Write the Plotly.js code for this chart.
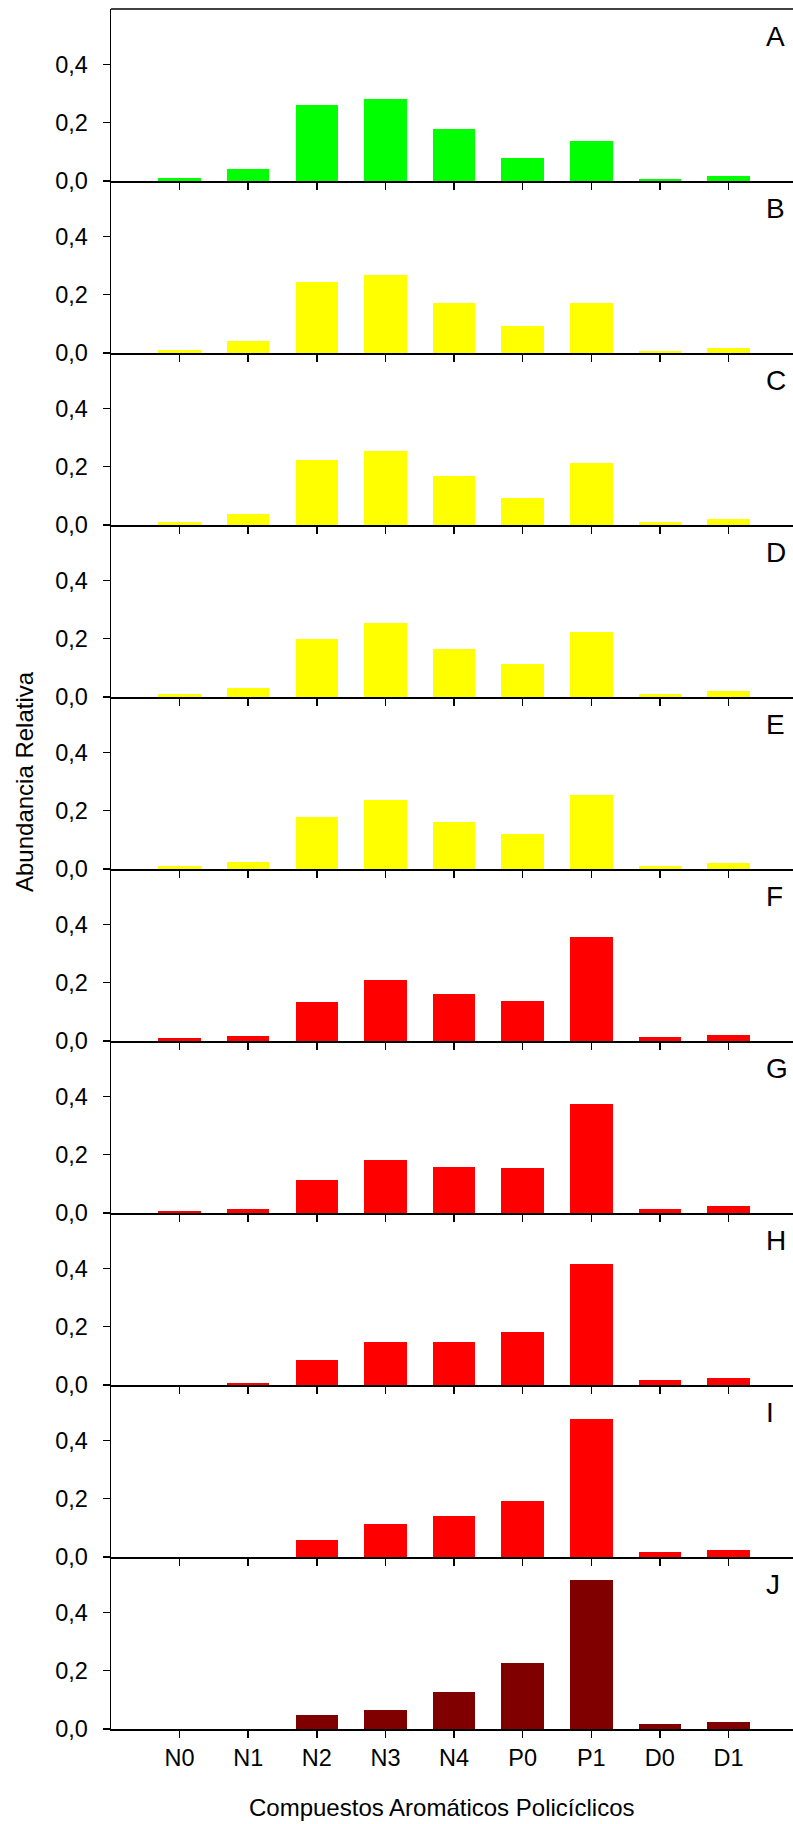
<!DOCTYPE html>
<html>
<head>
<meta charset="utf-8">
<script src="https://cdn.plot.ly/plotly-3.0.1.min.js"></script>
<style>
  html, body { margin: 0; padding: 0; background: #ffffff; }
  #chart { width: 793px; height: 1824px; }
</style>
</head>
<body>
<div id="chart"></div>
<script>
// Categories (x tick labels)
const categories = ['N0', 'N1', 'N2', 'N3', 'N4', 'P0', 'P1', 'D0', 'D1'];

// Panel labels
const panelLabels = ['A', 'B', 'C', 'D', 'E', 'F', 'G', 'H', 'I', 'J'];

// Relative abundance per panel
const panelA = [0.011, 0.042, 0.261, 0.280, 0.178, 0.078, 0.136, 0.006, 0.016];
const panelB = [0.011, 0.040, 0.245, 0.268, 0.173, 0.091, 0.170, 0.008, 0.016];
const panelC = [0.009, 0.037, 0.223, 0.253, 0.167, 0.091, 0.213, 0.009, 0.019];
const panelD = [0.009, 0.031, 0.198, 0.253, 0.165, 0.112, 0.223, 0.011, 0.019];
const panelE = [0.009, 0.024, 0.178, 0.236, 0.160, 0.120, 0.253, 0.009, 0.019];
const panelF = [0.009, 0.017, 0.134, 0.208, 0.160, 0.138, 0.358, 0.014, 0.021];
const panelG = [0.007, 0.013, 0.113, 0.181, 0.157, 0.153, 0.374, 0.015, 0.023];
const panelH = [0.000, 0.006, 0.087, 0.149, 0.146, 0.181, 0.414, 0.016, 0.023];
const panelI = [0.000, 0.000, 0.057, 0.113, 0.140, 0.193, 0.472, 0.016, 0.023];
const panelJ = [0.000, 0.000, 0.049, 0.065, 0.126, 0.226, 0.512, 0.017, 0.023];

// Y tick values and labels
const yTickVals = [0, 0.2, 0.4];
const yTickText = ['0,0', '0,2', '0,4'];

// Axis titles
const xTitle = 'Compuestos Aromáticos Policíclicos';
const yTitle = 'Abundancia Relativa';

const panelData = [panelA, panelB, panelC, panelD, panelE, panelF, panelG, panelH, panelI, panelJ];
const panelColors = ['#00ff00', '#ffff00', '#ffff00', '#ffff00', '#ffff00',
                     '#ff0000', '#ff0000', '#ff0000', '#ff0000', '#800000'];

const FONT = 'Liberation Sans, Arial, Helvetica, sans-serif';
const W = 793, H = 1824;
const mL = 111, mR = 0, mT = 9, mB = 95;
const plotW = W - mL - mR, plotH = H - mT - mB;
const n = panelData.length;

const traces = [];
const layout = {
  width: W, height: H,
  margin: {l: mL, r: mR, t: mT, b: mB, pad: 0},
  paper_bgcolor: '#ffffff',
  plot_bgcolor: '#ffffff',
  showlegend: false,
  font: {family: FONT, color: '#000000', size: 23.5},
  bargap: 0,
  annotations: [],
  shapes: []
};

for (let i = 0; i < n; i++) {
  const k = i + 1;
  const xa = k === 1 ? 'xaxis' : 'xaxis' + k;
  const ya = k === 1 ? 'yaxis' : 'yaxis' + k;
  const xr = k === 1 ? 'x' : 'x' + k;
  const yr = k === 1 ? 'y' : 'y' + k;
  traces.push({
    type: 'bar',
    x: categories,
    y: panelData[i],
    xaxis: xr, yaxis: yr,
    width: 0.62,
    marker: {color: panelColors[i], line: {width: 0}},
    hoverinfo: 'x+y'
  });
  const d0 = (n - 1 - i) / n, d1 = (n - i) / n;
  layout[xa] = {
    type: 'category',
    categoryorder: 'array',
    categoryarray: categories,
    range: [-1, 8.94],
    anchor: yr,
    domain: [0, 1],
    showline: true, linecolor: '#000000', linewidth: 2,
    ticks: 'outside', ticklen: 7, tickwidth: 1.5, tickcolor: '#000000',
    showticklabels: i === n - 1,
    tickfont: {family: FONT, size: 23.5, color: '#000000'},
    showgrid: false, zeroline: false, fixedrange: true
  };
  layout[ya] = {
    domain: [d0, d1],
    anchor: xr,
    range: [0, 0.59],
    tickvals: yTickVals,
    ticktext: yTickText,
    ticks: 'outside', ticklen: 7, tickwidth: 1.5, tickcolor: '#000000',
    ticklabelstandoff: 10,
    tickfont: {family: FONT, size: 23.5, color: '#000000'},
    showline: true, linecolor: '#000000', linewidth: 1.5,
    showgrid: false, zeroline: false, fixedrange: true
  };
  layout.annotations.push({
    text: panelLabels[i],
    xref: 'paper', yref: 'paper',
    x: (764 - mL) / plotW, xanchor: 'left',
    y: d1 - 10 / plotH, yanchor: 'top',
    showarrow: false,
    font: {family: FONT, size: 28, color: '#000000'}
  });
}

// Top border of the first panel
layout.shapes.push({
  type: 'line', xref: 'paper', yref: 'paper',
  x0: 0, x1: 1, y0: 1, y1: 1,
  line: {color: '#000000', width: 1.5}
});

// Axis titles
layout.annotations.push({
  text: xTitle, xref: 'paper', yref: 'paper',
  x: (441.5 - mL) / plotW, xanchor: 'center',
  y: (H - mB - 1808) / plotH, yanchor: 'middle',
  showarrow: false,
  font: {family: FONT, size: 24, color: '#000000'}
});
layout.annotations.push({
  text: yTitle, xref: 'paper', yref: 'paper',
  x: (24 - mL) / plotW, xanchor: 'center',
  y: (H - mB - 782) / plotH, yanchor: 'middle',
  textangle: -90,
  showarrow: false,
  font: {family: FONT, size: 24, color: '#000000'}
});

Plotly.newPlot('chart', traces, layout, {displayModeBar: false, staticPlot: true});
</script>
</body>
</html>
